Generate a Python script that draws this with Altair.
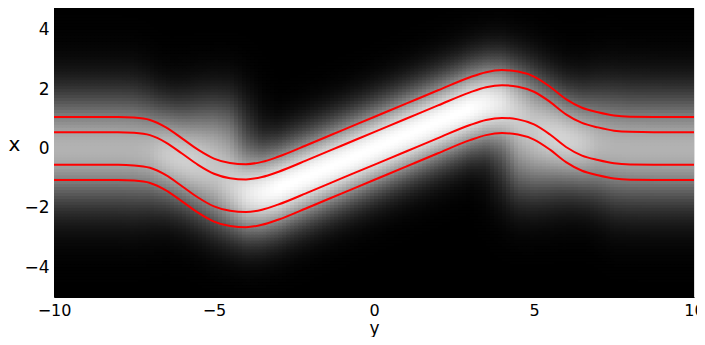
import numpy as np
import pandas as pd
import altair as alt

# ---- values ----
# sample positions along the horizontal axis (labelled "y")
ys = [-10, -9, -8, -7.5, -7, -6.5, -6, -5.5, -5, -4.5, -4, -3.5, -3, -2, -1, 0,
      1, 2, 3, 3.5, 4, 4.5, 5, 5.5, 6, 6.5, 7, 7.5, 8, 9, 10]
# centre of the beam (vertical axis "x") at each sample
center = [0, 0, 0, -0.02, -0.10, -0.35, -0.72, -1.10, -1.40, -1.55, -1.59, -1.51, -1.34, -0.90, -0.45, 0,
          0.45, 0.90, 1.34, 1.51, 1.58, 1.53, 1.36, 1.02, 0.60, 0.31, 0.16, 0.05, 0.01, 0, 0]
# offsets of the four red curves from the beam centre
offsets = [1.06, 0.55, -0.55, -1.06]
# peak brightness of the main beam
amp = [0.70, 0.70, 0.70, 0.70, 0.62, 0.50, 0.45, 0.45, 0.50, 0.65, 0.85, 0.95, 1.0, 1.0, 1.0, 1.0,
       1.0, 1.0, 1.0, 0.95, 0.85, 0.65, 0.50, 0.45, 0.45, 0.50, 0.62, 0.70, 0.70, 0.70, 0.70]
# half-width (sigma) of the main beam
spread = [1.3, 1.3, 1.3, 1.3, 1.25, 1.15, 1.08, 1.05, 1.03, 1.0, 1.0, 1.0, 1.0, 1.0, 1.0, 1.0,
          1.0, 1.0, 1.0, 1.0, 1.0, 1.0, 1.03, 1.05, 1.08, 1.15, 1.25, 1.3, 1.3, 1.3, 1.3]
# brightness and position of the glow left on the old (straight) track
ghost_amp = [0, 0, 0, 0, 0.10, 0.30, 0.42, 0.50, 0.52, 0.45, 0.20, 0.05, 0, 0, 0, 0,
             0, 0, 0, 0.05, 0.20, 0.45, 0.52, 0.50, 0.42, 0.30, 0.10, 0, 0, 0, 0]
ghost_pos = [0, 0, 0, 0, 0, 0.05, 0.10, 0.15, 0.20, 0.25, 0.30, 0.30, 0.30, 0, 0, 0,
             0, 0, -0.30, -0.30, -0.30, -0.25, -0.20, -0.15, -0.10, -0.05, 0, 0, 0, 0, 0]
ghost_spread = 1.12

x_ticks = [-10, -5, 0, 5, 10]
y_ticks = [-4, -2, 0, 2, 4]

# ---- build the image table ----
dy, dx = 0.125, 0.1
ycent = np.arange(-10 + dy / 2, 10, dy)
xcent = np.arange(-5 + dx / 2, 4.8, dx)
C = np.interp(ycent, ys, center)
A = np.interp(ycent, ys, amp)
S = np.interp(ycent, ys, spread)
G = np.interp(ycent, ys, ghost_amp)
GX = np.interp(ycent, ys, ghost_pos)
Y, X = np.meshgrid(ycent, xcent)
I = A * np.exp(-(X - C) ** 2 / (2 * S ** 2)) + G * np.exp(-(X - GX) ** 2 / (2 * ghost_spread ** 2))
I = np.clip(I, 0, 1)
v = np.round(I * 255).astype(int).ravel()
heat = pd.DataFrame({
    "y0": (Y - dy / 2).ravel(),
    "y1": (Y + dy / 2 + 0.03).ravel(),
    "x0": (X - dx / 2).ravel(),
    "x1": (X + dx / 2 + 0.03).ravel(),
    "col": ["#%02x%02x%02x" % (g, g, g) for g in v],
})

rows = []
for i, off in enumerate(offsets):
    for yy, cc in zip(ys, center):
        rows.append({"yy": yy, "xx": cc + off, "curve": str(i)})
lines = pd.DataFrame(rows)

xscale = alt.Scale(domain=[-10, 10], nice=False, zero=False)
yscale = alt.Scale(domain=[-5, 4.73], nice=False, zero=False)

font = "DejaVu Sans"
xaxis = alt.Axis(values=x_ticks, title="y", grid=False, ticks=False, tickSize=0,
                 labelFontSize=16, labelFont=font, labelColor="black", labelPadding=5,
                 labelFlush=False, labelOverlap=False,
                 titleFont=font, titleFontSize=17, titleFontWeight="normal", titleColor="black",
                 titleBaseline="alphabetic", titleY=36,
                 domainColor="black", domainWidth=1, format="d")
yaxis = alt.Axis(values=y_ticks, title="x", grid=False, ticks=False, tickSize=0,
                 labelFontSize=17, labelFont=font, labelColor="black", labelPadding=5,
                 labelFlush=False, labelOverlap=False,
                 titleFont=font, titleFontSize=20, titleFontWeight="normal", titleColor="black",
                 titleAngle=0, titleAlign="center", titleBaseline="middle", titleX=-40, titleY=136,
                 domainColor="black", domainWidth=1, format="d")

heat_chart = alt.Chart(heat).mark_rect(clip=True, strokeWidth=0).encode(
    x=alt.X("y0:Q", scale=xscale, axis=xaxis),
    x2="y1:Q",
    y=alt.Y("x0:Q", scale=yscale, axis=yaxis),
    y2="x1:Q",
    fill=alt.Fill("col:N", scale=None),
)

line_chart = alt.Chart(lines).mark_line(clip=True, color="#ff0000", strokeWidth=2,
                                          interpolate="monotone").encode(
    x=alt.X("yy:Q", scale=xscale, axis=xaxis),
    y=alt.Y("xx:Q", scale=yscale, axis=yaxis),
    detail="curve:N",
    order="yy:Q",
)

chart = alt.layer(heat_chart, line_chart).properties(
    width=640, height=289,
    autosize=alt.AutoSizeParams(type="none"),
    padding={"left": 46, "top": 0, "right": 3, "bottom": 40},
).configure_view(stroke="black", strokeWidth=1).configure(background="white")

chart.save("out.html", embed_options={"renderer": "svg", "actions": False})
